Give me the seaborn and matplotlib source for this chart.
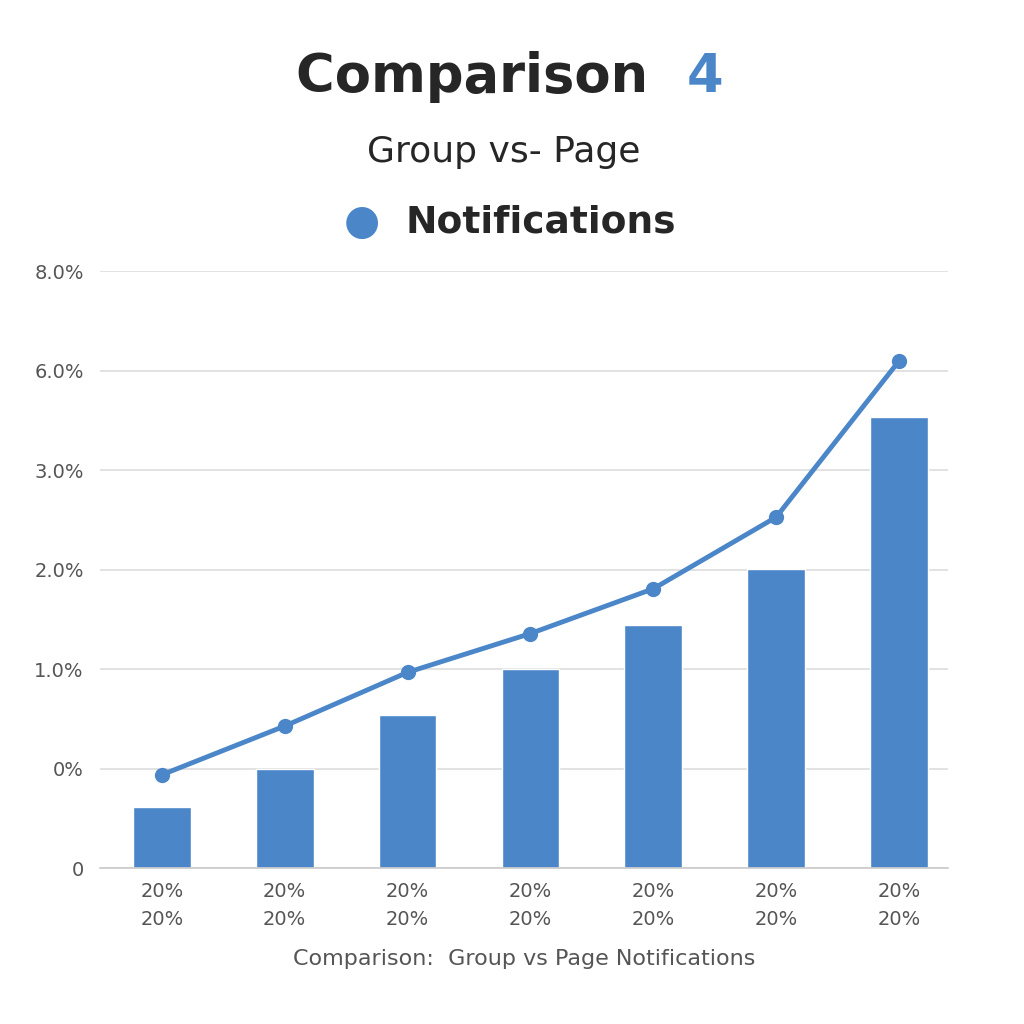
import matplotlib
matplotlib.use("Agg")
import matplotlib.pyplot as plt
import seaborn as sns
import pandas as pd

# Values in axis units (the y ticks are evenly spaced labels, not a linear scale)
categories = ["20%\n20%"] * 7
bar_values = [0.62, 1.0, 1.54, 2.0, 2.45, 3.01, 4.54]
line_values = [0.94, 1.43, 1.97, 2.36, 2.81, 3.53, 5.10]
y_tick_labels = ["0", "0%", "1.0%", "2.0%", "3.0%", "6.0%", "8.0%"]

blue = "#4a86c8"

sns.set_theme(style="white")
plt.rcParams["font.family"] = ["DejaVu Sans"]

fig = plt.figure(figsize=(10.24, 10.24), dpi=100)
ax = fig.add_axes([0.098, 0.152, 0.828, 0.583])

df = pd.DataFrame({"pos": range(len(bar_values)), "bar": bar_values, "line": line_values})
sns.barplot(data=df, x="pos", y="bar", color=blue, width=0.47, saturation=1, ax=ax, zorder=2)
sns.lineplot(data=df, x="pos", y="line", color=blue, linewidth=3.5, marker="o",
             markersize=11, markeredgewidth=0, ax=ax, zorder=3)

ax.set_ylim(0, 6)
ax.set_xlim(-0.5, 6.4)
ax.set_yticks(range(7))
ax.set_yticklabels(y_tick_labels, fontsize=14, color="#555555")
ax.set_xticks(range(7))
ax.set_xticklabels(categories, fontsize=14, color="#555555", linespacing=1.6)
ax.tick_params(axis="y", length=0, pad=12)
ax.tick_params(axis="x", length=0, pad=10)
ax.yaxis.grid(True, color="#dddddd", linewidth=1.2)
ax.set_axisbelow(True)
for s in ["top", "right", "left"]:
    ax.spines[s].set_visible(False)
ax.spines["bottom"].set_color("#cccccc")
ax.set_xlabel("Comparison:  Group vs Page Notifications", fontsize=16, color="#555555", labelpad=14)
ax.set_ylabel("")

fig.text(0.47, 0.925, "Comparison ", fontsize=38, fontweight="bold", ha="center", va="center")
fig.text(0.688, 0.925, "4", fontsize=38, fontweight="bold", color=blue, ha="center", va="center")
fig.text(0.492, 0.852, "Group vs- Page", fontsize=26, ha="center", va="center")
fig.text(0.353, 0.783, "\u25cf", fontsize=30, color=blue, ha="center", va="center")
fig.text(0.528, 0.783, "Notifications", fontsize=27, fontweight="bold", ha="center", va="center")

fig.savefig("out.png", dpi=100, facecolor="white")
